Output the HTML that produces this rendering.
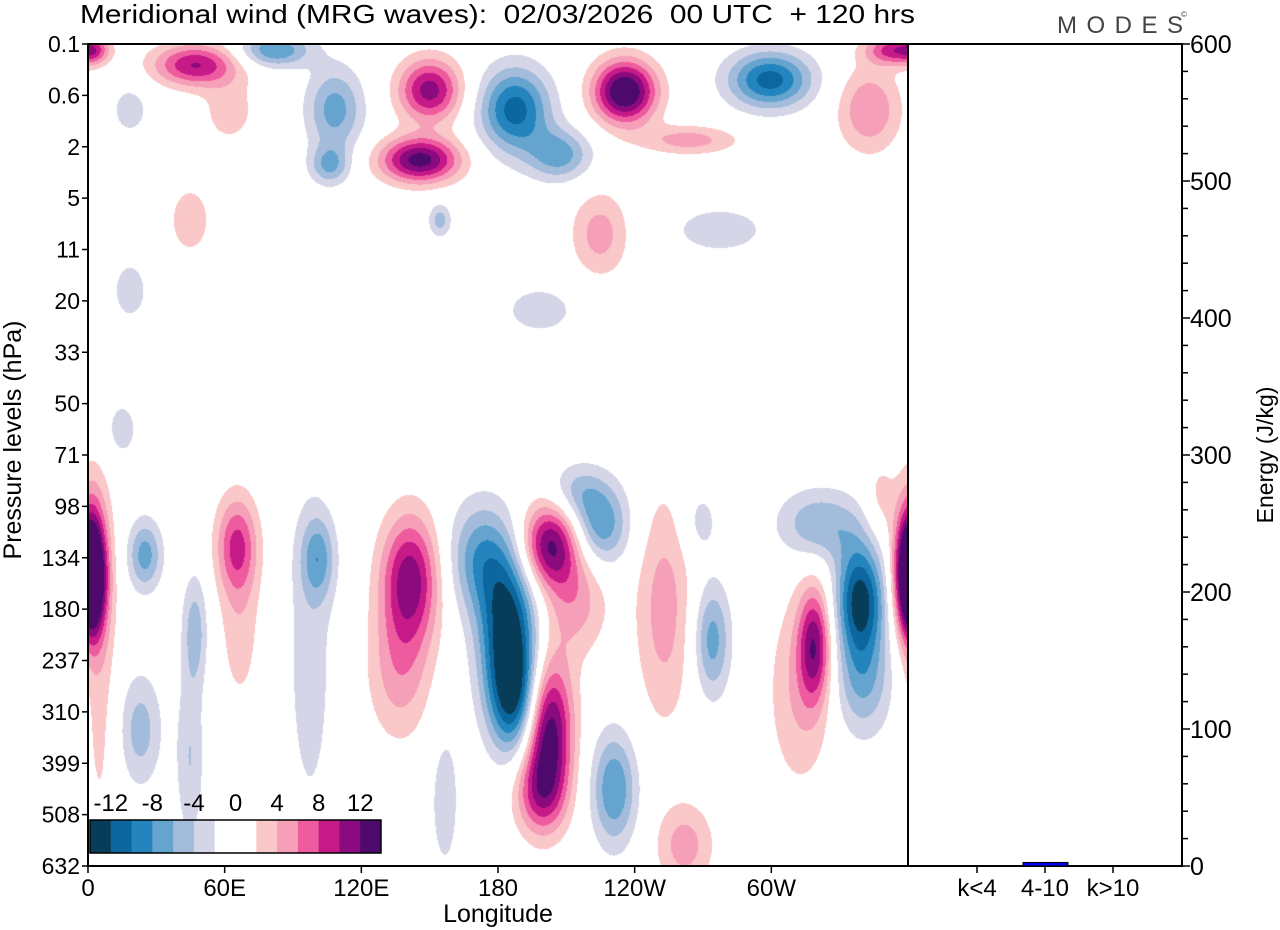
<!DOCTYPE html>
<html><head><meta charset="utf-8">
<style>
html,body{margin:0;padding:0;background:#fff;width:1280px;height:930px;overflow:hidden;font-family:"Liberation Sans",sans-serif}
#field{position:absolute;left:88px;top:44px}
#ax{position:absolute;left:0;top:0}
</style></head><body>
<canvas id="field" width="820" height="822"></canvas>
<svg id="ax" width="1280" height="930" font-family="Liberation Sans, sans-serif"></svg>
<script>
// ---- data ----
const pressureLabels=["0.1","0.6","2","5","11","20","33","50","71","98","134","180","237","310","399","508","632"];
const lonTicks=[0,60,120,180,240,300];
const lonLabels=["0","60E","120E","180","120W","60W"];
const energyTicks=[0,100,200,300,400,500,600];
const barCats=["k<4","4-10","k>10"];
const barValues=[0.3,2.6,0.3];
const levels=[-12,-10,-8,-6,-4,-2,2,4,6,8,10,12];
const cbarLabels=["-12","-8","-4","0","4","8","12"];
// wave anomalies: longitude (deg), level index, amplitude (m/s), spreads
const blobLon=[172,184.4,187.5,202,198.4,202.8,213.8,224.8,213.8,141.4,137,1,25,47,65.4,66.7,101,97.5,274,253,319,312.6,339,321,340,361,231,23,262,5.3,348,47,3,82,108.4,106,150,145.7,187.5,207,235.7,264,299.4,343,354,224.8,44.8,18.4,154.5,277.4,198.4,14,18.4,156.7,44.8,268.7,62];
const blobLev=[10.0,11.4,12.8,13.35,14.6,9.75,10.8,9.36,8.7,10.4,12.2,10.2,9.95,11.4,9.75,11.4,10.0,12.0,11.6,11.0,11.7,12.6,10.8,9.36,12.4,10.4,14.5,13.35,15.6,11.8,8.9,0.41,0.12,0.12,1.28,2.36,0.9,2.26,1.28,2.16,0.93,1.87,0.7,1.28,0.12,3.7,3.43,1.28,3.43,3.62,5.18,7.5,4.8,14.7,13.9,9.3,1.3];
const blobAmp=[-7,-13,-10,14,7,12,5,-8,-4,11,5,10,-7,-5,8,3,-6,-3,-7,5,10,4,-13,-6,-6,12,-8,-5,5,3,3,10,5,-8,-7,-6,11,13,-11,-7,15,5,-11,6,9,5,3,-3,-5,-3,-3,-3,-3,-3,-4,-3,3];
const blobSLon=[10,9,8,7.5,8,9,10,9,8.8,9,10,4.4,5.3,4,6.5,6.6,5.3,7.9,5.7,8.8,5,10,7.5,13,9,5,7,6.6,8.8,5.3,5.3,13,4.4,11,8.8,6.1,9.7,12.3,11,9.7,9.7,15,13,9.7,8.8,8.8,7.9,6.6,3.5,17.5,13,6.6,6.6,5.3,4.4,6,9];
const blobSLev=[0.78,1.07,0.78,0.97,0.58,0.58,0.78,0.58,0.39,0.88,0.97,0.97,0.49,0.78,0.68,1.17,0.58,2.5,0.78,1.56,0.78,1.36,0.78,0.49,0.78,0.78,0.78,0.78,0.58,2.9,0.58,0.29,0.2,0.23,0.58,0.27,0.43,0.31,0.58,0.35,0.43,0.2,0.39,0.58,0.2,0.58,0.58,0.39,0.23,0.39,0.39,0.49,0.49,1.2,1.2,0.5,0.5];
const colors=["#083d5a","#0b679e","#2484bd","#64a4cf","#a3bcdb","#d4d6e8","#ffffff","#ffffff","#fac8c8","#f69fb8","#ee5b9f","#c71a89","#8b0a7d","#4d0a6c"];

// ---- geometry ----
const X0=88,X1=908,Y0=44,Y1=866;
const xLon=l=>X0+l/360*(X1-X0);
const yLev=i=>Y0+i/16*(Y1-Y0);
const RX0=908,RX1=1182;
const yE=e=>Y1-e/600*(Y1-Y0);
const xCat=i=>977+i*68;

// ---- field ----
(function(){
const cv=document.getElementById('field');const ctx=cv.getContext('2d');
const W=cv.width,H=cv.height;const img=ctx.createImageData(W,H);
const rgb=colors.map(c=>[parseInt(c.slice(1,3),16),parseInt(c.slice(3,5),16),parseInt(c.slice(5,7),16)]);
const n=blobLon.length;
for(let py=0;py<H;py++){const lev=(py+0.5)/H*16;
 for(let px=0;px<W;px++){const lon=(px+0.5)/W*360;let v=0;
  for(let k=0;k<n;k++){let dl=lon-blobLon[k];if(dl>180)dl-=360;if(dl<-180)dl+=360;
   const a=dl/blobSLon[k],b=(lev-blobLev[k])/blobSLev[k];const r=a*a+b*b;if(r<18)v+=blobAmp[k]*Math.exp(-0.5*r);}
  let ci=0;while(ci<levels.length&&v>=levels[ci])ci++;
  let idx=ci<=5?ci:(ci===6?6:ci+1);
  const c=rgb[idx];const o=(py*W+px)*4;img.data[o]=c[0];img.data[o+1]=c[1];img.data[o+2]=c[2];img.data[o+3]=255;}}
ctx.putImageData(img,0,0);
})();

// ---- axes ----
const svg=document.getElementById('ax');const NS='http://www.w3.org/2000/svg';
function mk(tag,attrs,parent){const e=document.createElementNS(NS,tag);for(const k in attrs)e.setAttribute(k,attrs[k]);(parent||svg).appendChild(e);return e;}
function txt(s,x,y,size,anchor,name,extra){const t=mk('text',Object.assign({x:x,y:y,'font-size':size,'text-anchor':anchor||'start',fill:'#000'},extra||{}));t.textContent=s;


return t;}

let t=txt("Meridional wind (MRG waves):  02/03/2026  00 UTC  + 120 hrs",80,23,26,'start','chart-title',{textLength:835,lengthAdjust:'spacingAndGlyphs'});
t.style.whiteSpace='pre';
txt("MODES",1057,33,24,'start','modes-logo',{fill:'#444','letter-spacing':'9.5'});
txt("©",1181,17,8,'start','copyright-mark',{fill:'#444'});

// colorbar
const cbX=90,cbY=820,cbW=291,cbH=33;
for(let i=0;i<14;i++){const r=mk('rect',{x:cbX+i*cbW/14,y:cbY,width:cbW/14+0.5,height:cbH,fill:colors[i]});

}
let cbf=mk('rect',{x:cbX,y:cbY,width:cbW,height:cbH,fill:'none',stroke:'#000','stroke-width':1.5});


for(let j=0;j<cbarLabels.length;j++){txt(cbarLabels[j],cbX+(1+2*j)*cbW/14,811,24,'middle','colorbar-label');}

// frames
let f1=mk('rect',{x:X0,y:Y0,width:X1-X0,height:Y1-Y0,fill:'none',stroke:'#000','stroke-width':2});


let f2=mk('rect',{x:RX0,y:Y0,width:RX1-RX0,height:Y1-Y0,fill:'none',stroke:'#000','stroke-width':2});



// pressure axis
for(let i=0;i<pressureLabels.length;i++){const y=yLev(i);
 mk('line',{x1:X0-6,x2:X0,y1:y,y2:y,stroke:'#000','stroke-width':1.5});
 txt(pressureLabels[i],80,y+8,23,'end','pressure-tick-label');}
txt("Pressure levels (hPa)",0,0,25,'middle','y-axis-title',{transform:'translate(21,440) rotate(-90)'});

// longitude axis
for(let i=0;i<lonTicks.length;i++){const x=xLon(lonTicks[i]);
 mk('line',{x1:x,x2:x,y1:Y1,y2:Y1+7,stroke:'#000','stroke-width':1.5});
 txt(lonLabels[i],x,Y1+30,24,'middle','longitude-tick-label');}
txt("Longitude",498,922,25,'middle','x-axis-title');

// energy axis
for(let e=0;e<=600;e+=20){const y=yE(e);const major=e%100===0;
 mk('line',{x1:RX1,x2:RX1+(major?8:6),y1:y,y2:y,stroke:'#000','stroke-width':1.5});}
for(const e of energyTicks){txt(String(e),1190,yE(e)+9,25,'start','energy-tick-label');}
txt("Energy (J/kg)",0,0,23,'middle','energy-axis-title',{transform:'translate(1273,455) rotate(-90)'});

// bars
for(let i=0;i<barCats.length;i++){const x=xCat(i);
 mk('line',{x1:x,x2:x,y1:Y1,y2:Y1+7,stroke:'#000','stroke-width':1.5});
 txt(barCats[i],x,Y1+30,24,'middle','bar-category-label');
 const h=Y1-yE(barValues[i]);
 const b=mk('rect',{x:x-22,y:Y1-h,width:45,height:h,fill:'#0000ee',stroke:'#000','stroke-width':1});
 
 }
</script>
</body></html>
